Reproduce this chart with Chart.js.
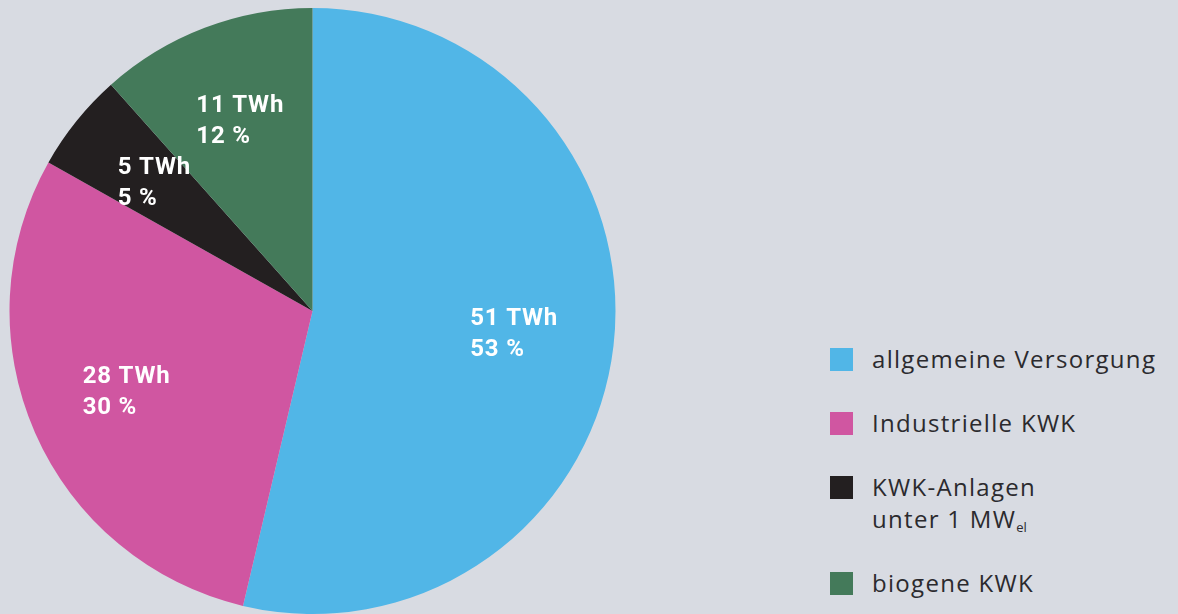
<!DOCTYPE html>
<html>
<head>
<meta charset="utf-8">
<script src="https://cdn.jsdelivr.net/npm/chart.js@4"></script>
<style>
  html, body { margin: 0; padding: 0; background: #d8dbe2; }
  body { width: 1178px; height: 614px; position: relative; overflow: hidden; font-family: "Open Sans", sans-serif; }
  #wrap { position: absolute; left: 0; top: 0; width: 626px; height: 614px; }
  .lg { position: absolute; left: 830px; color: #2b2a2e; font-size: 24px; line-height: 32px; letter-spacing: 1.3px; }
  .lg .sw { position: absolute; left: 0; top: 0; width: 23px; height: 23px; }
  .lg .tx { position: absolute; left: 42px; top: -5px; white-space: nowrap; }
  .lg sub { font-size: 13px; vertical-align: -4px; line-height: 0; letter-spacing: 0; }
</style>
</head>
<body>
<div id="wrap"><canvas id="c"></canvas></div>
<script>
const categories = ["allgemeine Versorgung", "Industrielle KWK", "KWK-Anlagen unter 1 MWel", "biogene KWK"];
const legendLines = [["allgemeine Versorgung"], ["Industrielle KWK"], ["KWK-Anlagen", "unter 1 MW<sub>el</sub>"], ["biogene KWK"]];
const valuesTWh = [51, 28, 5, 11];
const percentLabels = [53, 30, 5, 12];
const colors = ["#51b6e7", "#d056a1", "#231f20", "#447a5a"];

const labelPlugin = {
  id: "sliceLabels",
  afterDatasetsDraw(chart) {
    const ctx = chart.ctx;
    const meta = chart.getDatasetMeta(0);
    ctx.save();
    ctx.fillStyle = "#ffffff";
    ctx.font = "bold 24px Roboto, sans-serif";
    if ("letterSpacing" in ctx) ctx.letterSpacing = "0.8px";
    ctx.textBaseline = "middle";
    ctx.textAlign = "left";
    meta.data.forEach((arc, i) => {
      const p = arc.getProps(["x", "y", "startAngle", "endAngle", "outerRadius"], true);
      const mid = (p.startAngle + p.endAngle) / 2;
      const r = p.outerRadius * 0.67;
      const cx = p.x + Math.cos(mid) * r;
      const cy = p.y + Math.sin(mid) * r;
      const l1 = valuesTWh[i] + " TWh";
      const l2 = percentLabels[i] + " %";
      const w = Math.max(ctx.measureText(l1).width, ctx.measureText(l2).width);
      const x0 = cx - w / 2;
      ctx.fillText(l1, x0, cy - 15.5);
      ctx.fillText(l2, x0, cy + 15.5);
    });
    ctx.restore();
  }
};

new Chart(document.getElementById("c"), {
  type: "pie",
  data: {
    labels: categories,
    datasets: [{
      data: valuesTWh,
      backgroundColor: colors,
      borderWidth: 0
    }]
  },
  options: {
    responsive: true,
    maintainAspectRatio: false,
    animation: false,
    layout: { padding: { top: 8, bottom: 0, left: 9, right: 10 } },
    plugins: { legend: { display: false }, tooltip: { enabled: false } }
  },
  plugins: [labelPlugin]
});

const legendTops = [348, 412, 476, 572];
legendLines.forEach((lines, i) => {
  const d = document.createElement("div");
  d.className = "lg";
  d.style.top = legendTops[i] + "px";
  const sw = document.createElement("div");
  sw.className = "sw";
  sw.style.background = colors[i];
  const tx = document.createElement("div");
  tx.className = "tx";
  tx.innerHTML = lines.join("<br>");
  d.appendChild(sw);
  d.appendChild(tx);
  document.body.appendChild(d);
});
</script>
</body>
</html>
